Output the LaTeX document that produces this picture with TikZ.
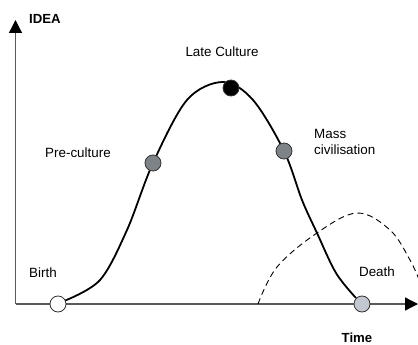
\documentclass[tikz,border=0pt]{standalone}
\usepackage{fontspec}
\setmainfont{Liberation Sans}
\usetikzlibrary{arrows.meta}
\definecolor{axisgrey}{HTML}{5A5A5A}
\definecolor{stagegrey}{HTML}{7E8388}
\definecolor{deathfill}{HTML}{C3C7CF}
\tikzset{
  axisline/.style={draw=axisgrey, line width=1.3pt, -{Triangle[length=13pt, width=13pt, fill=black, color=black]}},
  stage/.style={circle, draw=black!80, line width=0.8pt, minimum size=16pt, inner sep=0pt},
  lbl/.style={font=\fontsize{13.4}{15}\selectfont, inner sep=0pt, align=left},
  axlbl/.style={font=\bfseries\fontsize{13.2}{15}\selectfont, inner sep=0pt},
  lifecurve/.style={draw=black, line width=1.8pt},
  nextcurve/.style={draw=black, line width=0.9pt, dash pattern=on 6pt off 4pt}
}
\begin{document}
\begin{tikzpicture}[x=1pt, y=-1pt]
  \useasboundingbox (0,0) rectangle (418,345);
  % axes
  \coordinate (origin) at (15.5,304);
  \coordinate (ytip) at (15.5,20);
  \coordinate (xtip) at (418,304);
  \draw[axisline] (origin) -- (ytip);
  \draw[axisline] (origin) -- (xtip);
  \node[axlbl, anchor=west] (idea) at (29,19) {IDEA};
  \node[axlbl] (time) at (357,338) {Time};
  % the following cycle (dashed)
  \draw[nextcurve] plot[smooth, tension=0.6] coordinates
    {(258,304) (277,267) (317,233) (357,213) (390,230) (410,260) (420,282)};
  % life cycle curve
  \draw[lifecurve] plot[smooth, tension=0.55] coordinates
    {(64,301) (100,280) (127,230) (153,163) (187,100) (223,82) (253,100) (284,151) (302,200) (317,233) (336,273) (356,298)};
  % stages
  \node[stage, fill=white] (birth) at (58,304) {};
  \node[stage, fill=stagegrey] (pre) at (153,163) {};
  \node[stage, fill=black] (late) at (231,88) {};
  \node[stage, fill=stagegrey] (mass) at (284,151) {};
  \node[stage, fill=deathfill] (death) at (362,304) {};
  % stage labels
  \node[lbl] (birthlbl) at (43,273) {Birth};
  \node[lbl] (prelbl) at (78,153) {Pre-culture};
  \node[lbl] (latelbl) at (222,52) {Late Culture};
  \node[lbl, anchor=west] (masslbl) at (314,142) {Mass\\[1.5pt]civilisation};
  \node[lbl] (deathlbl) at (377,272) {Death};
\end{tikzpicture}
\end{document}
